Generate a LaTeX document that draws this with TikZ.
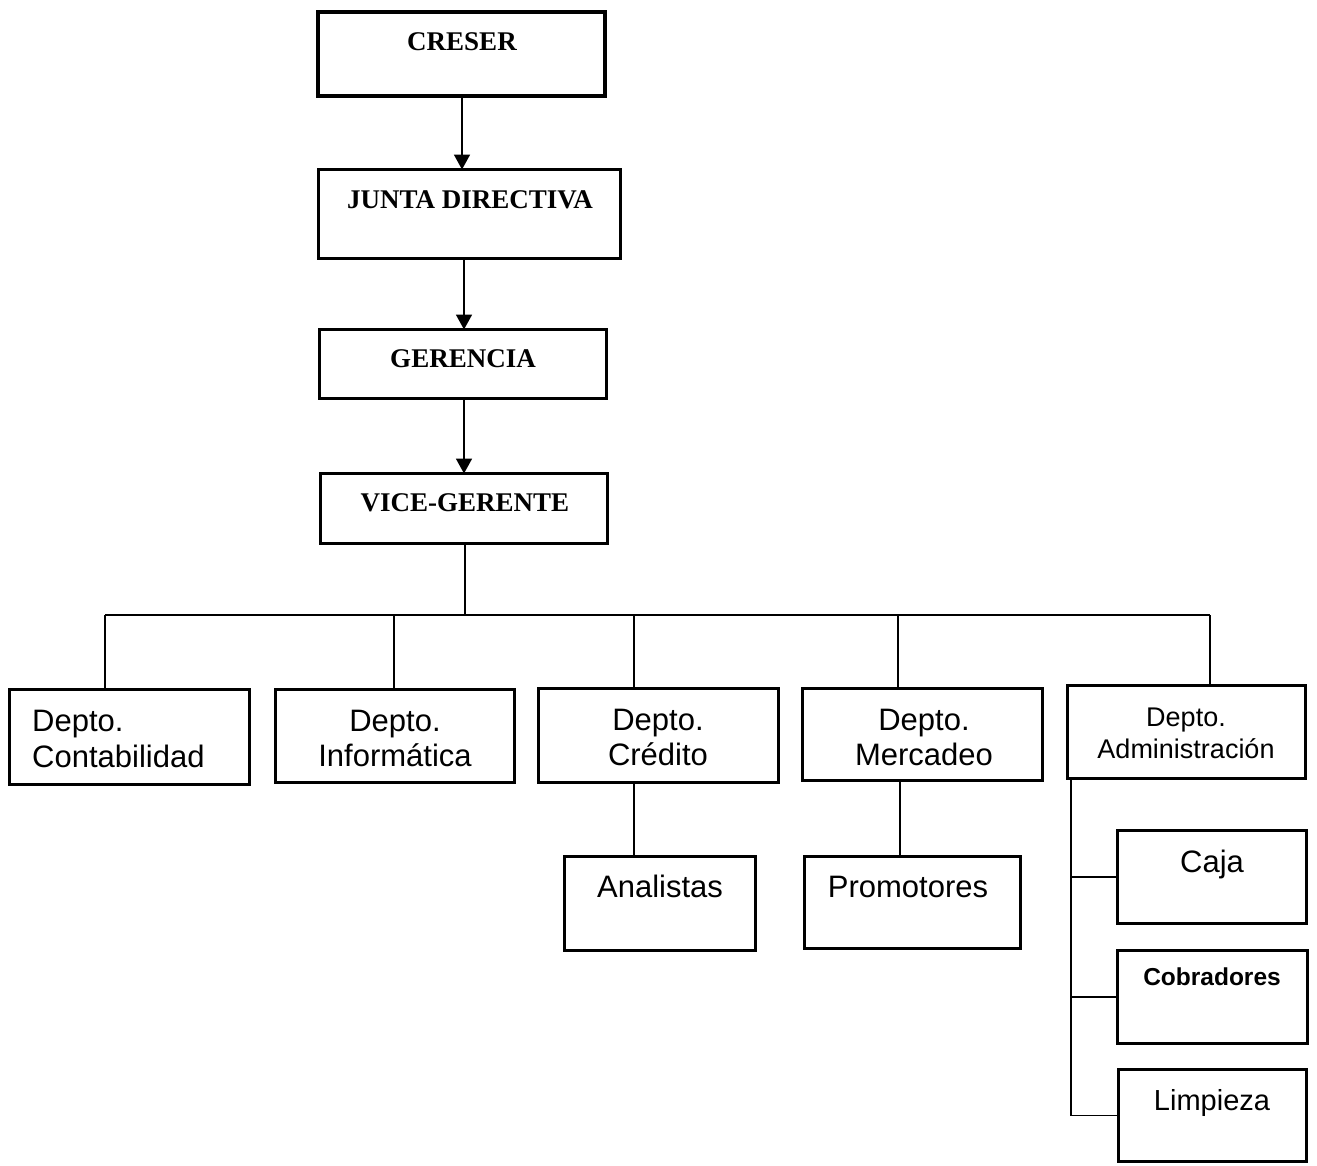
\documentclass[tikz,border=0pt]{standalone}
\usepackage{fontspec}
\setmainfont{Liberation Serif}
\newfontfamily\arialf{Liberation Sans}
\usetikzlibrary{arrows.meta}
\begin{document}
\begin{tikzpicture}[x=1pt,y=-1pt,
  box/.style={draw=black,line width=3.2pt,rectangle,inner sep=0pt,outer sep=0pt},
  thickbox/.style={box,line width=4.2pt},
  ser/.style={font=\fontsize{27}{32}\selectfont\bfseries,inner sep=0pt,anchor=base},
  sans/.style={font=\arialf\fontsize{31}{36}\selectfont,inner sep=0pt,anchor=base},
  sanss/.style={font=\arialf\fontsize{27}{32}\selectfont,inner sep=0pt,anchor=base},
  conn/.style={line width=1.8pt},
  arr/.style={conn,-{Triangle[length=15pt,width=16pt]}}]
\useasboundingbox (0,0) rectangle (1317,1165);
% top chain
\node[thickbox,minimum width=287pt,minimum height=84pt] (cre) at (461.5,54) {};
\node[ser] (cre-t) at (462,50) {CRESER};
\node[box,minimum width=302pt,minimum height=89pt] (jun) at (469.5,214) {};
\node[ser] (jun-t) at (470,208) {JUNTA DIRECTIVA};
\node[box,minimum width=287pt,minimum height=69pt] (ger) at (463,364) {};
\node[ser] (ger-t) at (463,367) {GERENCIA};
\node[box,minimum width=287pt,minimum height=70pt] (vg) at (464,508.5) {};
\node[ser] (vg-t) at (465,511) {VICE-GERENTE};
% departments
\node[box,minimum width=240pt,minimum height=95pt] (cont) at (129.5,737) {};
\node[sans,anchor=base west] (cont-a) at (32,731) {Depto.};
\node[sans,anchor=base west] (cont-b) at (32,767) {Contabilidad};
\node[box,minimum width=239pt,minimum height=93pt] (inf) at (395,736) {};
\node[sans] (inf-a) at (395,731) {Depto.};
\node[sans] (inf-b) at (395,766) {Informática};
\node[box,minimum width=240pt,minimum height=94pt] (cred) at (658.5,735.5) {};
\node[sans] (cred-a) at (658,730) {Depto.};
\node[sans] (cred-b) at (658,765) {Crédito};
\node[box,minimum width=240pt,minimum height=92pt] (merc) at (922.5,734.5) {};
\node[sans] (merc-a) at (924,730) {Depto.};
\node[sans] (merc-b) at (924,765) {Mercadeo};
\node[box,minimum width=238pt,minimum height=93pt] (adm) at (1186.5,732) {};
\node[sanss] (adm-a) at (1186,726) {Depto.};
\node[sanss] (adm-b) at (1186,758) {Administración};
% sub units
\node[box,minimum width=191pt,minimum height=94pt] (anal) at (660,903.5) {};
\node[sans] (anal-t) at (660,897) {Analistas};
\node[box,minimum width=216pt,minimum height=92pt] (prom) at (912.5,902.5) {};
\node[sans] (prom-t) at (908,897) {Promotores};
\node[box,minimum width=189pt,minimum height=93pt] (caja) at (1212,877) {};
\node[sans] (caja-t) at (1212,872) {Caja};
\node[box,minimum width=190pt,minimum height=93pt] (cob) at (1212.5,997) {};
\node[sanss,font=\arialf\fontsize{24.5}{30}\selectfont\bfseries] (cob-t) at (1212,985) {Cobradores};
\node[box,minimum width=188pt,minimum height=92pt] (limp) at (1212.5,1115.5) {};
\node[sans,font=\arialf\fontsize{29}{34}\selectfont] (limp-t) at (1212,1110) {Limpieza};
% coordinates
\coordinate (bar) at (465,615);
\coordinate (bl) at (105,615);
\coordinate (br) at (1210,615);
\coordinate (xinf) at (394,615);
\coordinate (xcred) at (634,615);
\coordinate (xmerc) at (898,615);
\coordinate (xcred2) at (634,0);
\coordinate (xmerc2) at (900,0);
\coordinate (ax) at (1071,0);
% arrows
\draw[arr] (cre.south -| 462,0) -- (462,0 |- jun.north);
\draw[arr] (jun.south -| 464,0) -- (464,0 |- ger.north);
\draw[arr] (ger.south -| 464,0) -- (464,0 |- vg.north);
% tree
\draw[conn] (vg.south -| bar) -- (bar);
\draw[conn] (bl) -- (br);
\draw[conn] (bl) -- (bl |- cont.north);
\draw[conn] (xinf) -- (xinf |- inf.north);
\draw[conn] (xcred) -- (xcred |- cred.north);
\draw[conn] (xmerc) -- (xmerc |- merc.north);
\draw[conn] (br) -- (br |- adm.north);
\draw[conn] (cred.south -| xcred2) -- (xcred2 |- anal.north);
\draw[conn] (merc.south -| xmerc2) -- (xmerc2 |- prom.north);
\draw[conn] (adm.south -| ax) -- (ax |- limp.west) -- (limp.west);
\draw[conn] (ax |- caja.west) -- (caja.west);
\draw[conn] (ax |- cob.west) -- (cob.west);
\end{tikzpicture}
\end{document}
